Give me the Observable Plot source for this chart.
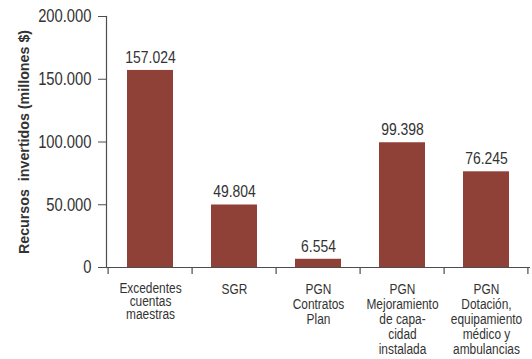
<!DOCTYPE html>
<html><head><meta charset="utf-8">
<script src="https://cdn.jsdelivr.net/npm/d3@7"></script>
<script src="https://cdn.jsdelivr.net/npm/@observablehq/plot@0.6"></script>
<style>
body{margin:0;background:#fff;}
</style></head>
<body><div id="chart"></div>
<script>
const categories = ["Excedentes\ncuentas\nmaestras","SGR","PGN\nContratos\nPlan","PGN\nMejoramiento\nde capa-\ncidad\ninstalada","PGN\nDotación,\nequipamiento\nmédico y\nambulancias"];
const values = [157024, 49804, 6554, 99398, 76245];
const yTicks = [0, 50000, 100000, 150000, 200000];
const yLabel = "Recursos  invertidos (millones $)";

const data = categories.map((c,i)=>({cat:c, value:values[i]}));
const fmt = d3.formatLocale({decimal:",", thousands:".", grouping:[3], currency:["$",""]}).format(",d");
const W = 532, H = 359, ML = 106, MR = 2, MT = 16, MB = 92;
const bw = (W - ML - MR) / categories.length;
const ink = "#333333";
const axisInk = "#4d4d4d";
const chart = Plot.plot({
  width: W, height: H,
  marginLeft: ML, marginRight: MR, marginTop: MT, marginBottom: MB,
  style: {fontFamily: "'Liberation Sans',Arial,sans-serif", color: ink, overflow: "visible"},
  x: {domain: categories, paddingInner: 0.45, paddingOuter: 0.225},
  y: {domain: [0, 200000]},
  marks: [
    Plot.barY(data, {x: "cat", y: "value", fill: "#8f4037"}),
    Plot.text(data, {x: "cat", y: "value", text: d => fmt(d.value), dy: -13, fontSize: 17, fill: ink}),
    Plot.axisY({ticks: yTicks, tickFormat: fmt, tickSize: 8, tickPadding: 7, fontSize: 18, stroke: axisInk, fill: ink,
      label: yLabel, labelAnchor: "center", labelArrow: "none", labelOffset: 88}),
    Plot.axisX({ticks: categories.slice(0,1), tickSize: 0, tickPadding: 16, fontSize: 14, lineHeight: 0.93, fill: ink, label: null}),
    Plot.axisX({ticks: categories.slice(1), tickSize: 0, tickPadding: 16, fontSize: 14, lineHeight: 1.07, fill: ink, label: null}),
    Plot.ruleY([0], {stroke: axisInk, strokeWidth: 1.2}),
    Plot.frame({anchor: "left", stroke: axisInk, strokeWidth: 1.2}),
    Plot.ruleX(categories, {x: d => d, y1: 0, y2: 0, insetBottom: -7, dx: -bw/2, stroke: axisInk, strokeWidth: 1.2}),
    Plot.ruleX(categories.slice(-1), {x: d => d, y1: 0, y2: 0, insetBottom: -7, dx: bw/2 - 1, stroke: axisInk, strokeWidth: 1.2})
  ]
});
document.getElementById("chart").appendChild(chart);
const svg = d3.select(chart);
svg.selectAll("[aria-label='y-axis label'] text").attr("font-weight", "bold").attr("font-size", 15).attr("fill", ink);
// condense text to mimic a narrow typeface
function condense(el, k) {
  const tspans = el.querySelectorAll("tspan");
  const targets = tspans.length ? Array.from(tspans) : [el];
  for (const t of targets) {
    const len = t.getComputedTextLength();
    if (len > 0) {
      t.setAttribute("textLength", (len * k).toFixed(2));
      t.setAttribute("lengthAdjust", "spacingAndGlyphs");
    }
  }
}
svg.selectAll("text").each(function() {
  const isYLabel = this.closest("[aria-label='y-axis label']");
  const isX = this.closest("[aria-label='x-axis tick label']");
  condense(this, isYLabel ? 0.95 : isX ? 0.85 : 0.82);
});
</script></body></html>
